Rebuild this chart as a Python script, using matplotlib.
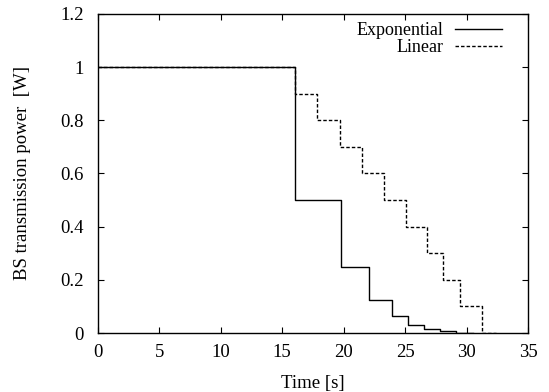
import matplotlib
matplotlib.use("Agg")
import matplotlib.pyplot as plt

# Exponential decrease: change times [s] and power levels [W]
exp_time = [0, 16.0, 19.8, 22.1, 23.95, 25.25, 26.55, 27.85, 29.15, 30.5]
exp_power = [1.0, 0.5, 0.25, 0.125, 0.0625, 0.03125, 0.015625, 0.0078125, 0.0, 0.0]

# Linear decrease
lin_time = [0, 16.0, 17.85, 19.7, 21.45, 23.27, 25.06, 26.8, 28.1, 29.45, 31.25, 32.4]
lin_power = [1.0, 0.9, 0.8, 0.7, 0.6, 0.5, 0.4, 0.3, 0.2, 0.1, 0.0, 0.0]

x_ticks = [0, 5, 10, 15, 20, 25, 30, 35]
y_ticks = [0, 0.2, 0.4, 0.6, 0.8, 1.0, 1.2]
y_tick_labels = ["0", "0.2", "0.4", "0.6", "0.8", "1", "1.2"]

plt.rcParams['font.family'] = ['Liberation Serif', 'DejaVu Serif']

fig = plt.figure(figsize=(5.49, 3.92), dpi=100)
ax = fig.add_axes([0.1785, 0.1505, 0.7832, 0.8138])

ax.plot(exp_time, exp_power, drawstyle='steps-post', color='black', lw=1.0,
        label='Exponential')
ax.plot(lin_time, lin_power, drawstyle='steps-post', color='black', lw=1.0,
        linestyle=(0, (2.5, 1.5)), label='Linear')

ax.set_xlim(0, 35)
ax.set_ylim(0, 1.2)
ax.set_xticks(x_ticks)
ax.set_yticks(y_ticks)
ax.set_yticklabels(y_tick_labels)
ax.tick_params(direction='in', top=True, right=True, length=4, width=0.8,
               labelsize=13.5)
ax.tick_params(axis='x', pad=8)
ax.tick_params(axis='y', pad=10)
for s in ax.spines.values():
    s.set_linewidth(1.0)

ax.set_xlabel('Time [s]', fontsize=13.5, labelpad=10)
ax.set_ylabel('BS transmission power  [W]', fontsize=13.5, labelpad=21)

ax.legend(loc='upper right', bbox_to_anchor=(0.9395, 0.975), frameon=False,
          markerfirst=False, fontsize=13, handlelength=2.6, handletextpad=0.65,
          labelspacing=0.0, borderaxespad=0.0, borderpad=0.0)

fig.savefig('out.png', dpi=100)
